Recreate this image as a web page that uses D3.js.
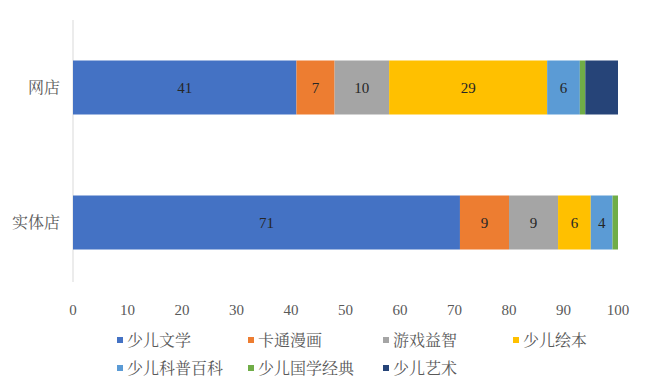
<!DOCTYPE html>
<html>
<head>
<meta charset="utf-8">
<script src="https://cdn.jsdelivr.net/npm/d3@7"></script>
<style>
  body { margin: 0; background: #fff; }
  text { font-family: "Liberation Serif", "Noto Serif CJK SC", "Noto Sans CJK SC", serif; }
</style>
</head>
<body>
<div id="chart"></div>
<script>
// data
let stores = ["网店", "实体店"];
let categories = ["少儿文学", "卡通漫画", "游戏益智", "少儿绘本", "少儿科普百科", "少儿国学经典", "少儿艺术"];
let online_values = [41, 7, 10, 29, 6, 1, 6];
let physical_values = [71, 9, 9, 6, 4, 1, 0];
let show_label_online = [true, true, true, true, true, false, false];
let show_label_physical = [true, true, true, true, true, false, false];
let x_ticks = [0, 10, 20, 30, 40, 50, 60, 70, 80, 90, 100];
let colors = ["#4472C4", "#ED7D31", "#A5A5A5", "#FFC000", "#5B9BD5", "#70AD47", "#264478"];

function gen_chart() {
    let width = 650, height = 390;
    let svg = d3.select("#chart").append("svg")
        .attr("width", width)
        .attr("height", height);

    let x = d3.scaleLinear().domain([0, 100]).range([73, 618]);
    let y = d3.scaleBand().domain(stores).range([20, 290]).paddingInner(0.6).paddingOuter(0.3);

    let rows = [
        { store: "网店", values: online_values, labels: show_label_online },
        { store: "实体店", values: physical_values, labels: show_label_physical }
    ];

    // vertical axis line
    svg.append("line")
        .attr("x1", x(0)).attr("x2", x(0))
        .attr("y1", 20).attr("y2", 282)
        .attr("stroke", "#d9d9d9").attr("stroke-width", 1);

    rows.forEach(function(r) {
        let cum = 0;
        r.values.forEach(function(v, i) {
            let x0 = cum;
            cum += v;
            if (v <= 0) return;
            svg.append("rect")
                .attr("x", x(x0))
                .attr("y", y(r.store))
                .attr("width", x(cum) - x(x0))
                .attr("height", y.bandwidth())
                .attr("fill", colors[i]);
            if (r.labels[i]) {
                svg.append("text")
                    .attr("x", (x(x0) + x(cum)) / 2)
                    .attr("y", y(r.store) + y.bandwidth() / 2)
                    .attr("dy", "0.35em")
                    .attr("text-anchor", "middle")
                    .attr("font-size", 15)
                    .attr("fill", "#262626")
                    .text(v);
            }
        });
        svg.append("text")
            .attr("x", 60)
            .attr("y", y(r.store) + y.bandwidth() / 2)
            .attr("dy", "0.35em")
            .attr("text-anchor", "end")
            .attr("font-size", 16)
            .attr("fill", "#595959")
            .text(r.store);
    });

    // x tick labels
    svg.selectAll(".xt")
        .data(x_ticks)
        .enter().append("text")
        .attr("x", d => x(d))
        .attr("y", 310)
        .attr("dy", "0.35em")
        .attr("text-anchor", "middle")
        .attr("font-size", 15)
        .attr("fill", "#595959")
        .text(d => d);

    // legend
    let legend_x = [117, 248, 383, 513];
    let legend_y = [340, 368];
    categories.forEach(function(c, i) {
        let lx = legend_x[i % 4], ly = legend_y[Math.floor(i / 4)];
        svg.append("rect")
            .attr("x", lx).attr("y", ly - 3)
            .attr("width", 6).attr("height", 6)
            .attr("fill", colors[i]);
        svg.append("text")
            .attr("x", lx + 10).attr("y", ly)
            .attr("dy", "0.35em")
            .attr("font-size", 16)
            .attr("fill", "#595959")
            .text(c);
    });
}

gen_chart();
</script>
</body>
</html>
